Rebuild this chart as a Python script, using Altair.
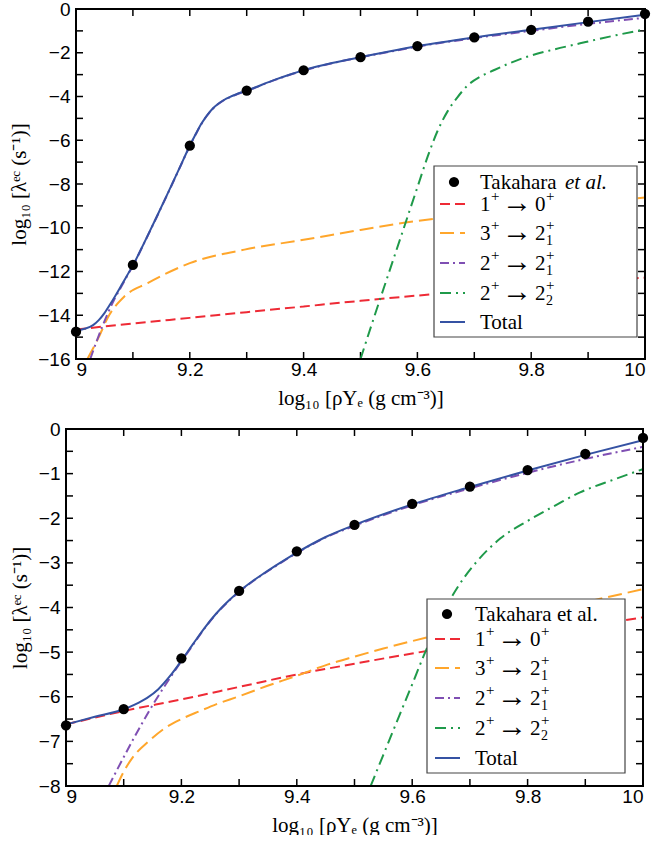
import altair as alt
import pandas as pd

# ---------------- data: top panel ----------------
tak_x = [9.0, 9.1, 9.2, 9.3, 9.4, 9.5, 9.6, 9.7, 9.8, 9.9, 10.0]
top_tak_y = [-14.75, -11.7, -6.25, -3.73, -2.8, -2.2, -1.7, -1.3, -0.95, -0.58, -0.22]

top_total_x = [9.0, 9.015, 9.03, 9.04, 9.05, 9.06, 9.07, 9.08, 9.09, 9.1, 9.12, 9.14, 9.16, 9.18,
               9.2, 9.21, 9.22, 9.23, 9.24, 9.25, 9.26, 9.27, 9.28, 9.29, 9.3, 9.35, 9.4, 9.45,
               9.5, 9.55, 9.6, 9.7, 9.8, 9.9, 10.0]
top_total_y = [-14.71, -14.62, -14.45, -14.22, -13.9, -13.5, -13.07, -12.62, -12.17, -11.72,
               -10.68, -9.6, -8.5, -7.38, -6.25, -5.74, -5.26, -4.87, -4.56, -4.33, -4.16, -4.03,
               -3.92, -3.82, -3.73, -3.23, -2.8, -2.47, -2.2, -1.94, -1.7, -1.3, -0.95, -0.6, -0.26]

top_red_x = [9.0, 9.1, 9.2, 9.3, 9.4, 9.5, 9.6, 9.7, 9.8, 9.9, 10.0]
top_red_y = [-14.65, -14.38, -14.12, -13.86, -13.6, -13.34, -13.1, -12.88, -12.67, -12.47, -12.28]

top_orange_x = [9.02, 9.04, 9.056, 9.085, 9.126, 9.2, 9.296, 9.4, 9.5, 9.582, 9.7, 9.8, 9.9, 10.0]
top_orange_y = [-16.0, -15.0, -14.1, -13.14, -12.53, -11.62, -11.0, -10.55, -10.1, -9.75, -9.4,
                -9.13, -8.88, -8.62]

top_purple_x = [9.025, 9.044, 9.067, 9.08, 9.09, 9.1, 9.12, 9.14, 9.16, 9.18, 9.2, 9.21, 9.22,
                9.23, 9.24, 9.25, 9.26, 9.27, 9.28, 9.29, 9.3, 9.35, 9.4, 9.45, 9.5, 9.55, 9.6,
                9.7, 9.8, 9.9, 10.0]
top_purple_y = [-16.0, -14.66, -13.29, -12.68, -12.2, -11.74, -10.69, -9.61, -8.51, -7.39, -6.26,
                -5.75, -5.27, -4.88, -4.57, -4.34, -4.17, -4.04, -3.93, -3.83, -3.74, -3.24, -2.81,
                -2.48, -2.21, -1.96, -1.72, -1.33, -1.0, -0.68, -0.4]

top_green_x = [9.5, 9.525, 9.55, 9.575, 9.6, 9.618, 9.635, 9.653, 9.67, 9.688, 9.71, 9.735,
               9.76, 9.793, 9.84, 9.886, 9.94, 10.0]
top_green_y = [-16.0, -14.0, -12.05, -10.1, -8.15, -6.75, -5.6, -4.68, -4.05, -3.5, -3.1, -2.79,
               -2.5, -2.18, -1.85, -1.57, -1.25, -0.93]

# ---------------- data: bottom panel ----------------
bot_tak_y = [-6.64, -6.28, -5.14, -3.63, -2.74, -2.15, -1.68, -1.29, -0.92, -0.56, -0.2]

bot_total_x = [9.0, 9.05, 9.1, 9.12, 9.14, 9.16, 9.18, 9.2, 9.22, 9.24, 9.26, 9.28, 9.3, 9.32,
               9.34, 9.36, 9.4, 9.45, 9.5, 9.6, 9.7, 9.8, 9.9, 10.0]
bot_total_y = [-6.62, -6.45, -6.28, -6.17, -6.03, -5.83, -5.54, -5.19, -4.82, -4.46, -4.14, -3.87,
               -3.64, -3.44, -3.26, -3.09, -2.77, -2.42, -2.15, -1.69, -1.3, -0.93, -0.58, -0.25]

bot_red_x = [9.0, 9.1, 9.2, 9.3, 9.4, 9.5, 9.6, 9.7, 9.8, 9.9, 10.0]
bot_red_y = [-6.62, -6.32, -6.06, -5.78, -5.5, -5.26, -5.03, -4.82, -4.62, -4.42, -4.22]

bot_orange_x = [9.088, 9.1, 9.115, 9.144, 9.173, 9.2, 9.232, 9.26, 9.3, 9.348, 9.4, 9.453,
                9.5, 9.55, 9.626, 9.7, 9.8, 9.9, 10.0]
bot_orange_y = [-8.0, -7.68, -7.37, -6.99, -6.69, -6.5, -6.32, -6.17, -5.99, -5.76, -5.53, -5.28,
                -5.1, -4.92, -4.67, -4.45, -4.17, -3.88, -3.59]

bot_purple_x = [9.074, 9.09, 9.115, 9.144, 9.173, 9.197, 9.22, 9.24, 9.26, 9.28, 9.3, 9.32,
                9.34, 9.36, 9.4, 9.45, 9.5, 9.6, 9.7, 9.8, 9.9, 10.0]
bot_purple_y = [-8.0, -7.6, -6.99, -6.32, -5.72, -5.26, -4.84, -4.47, -4.15, -3.88, -3.65, -3.45,
                -3.27, -3.1, -2.78, -2.43, -2.17, -1.71, -1.33, -0.98, -0.67, -0.4]

bot_green_x = [9.528, 9.55, 9.58, 9.6, 9.62, 9.643, 9.666, 9.69, 9.712, 9.753, 9.8, 9.85,
               9.891, 9.95, 10.0]
bot_green_y = [-8.0, -7.3, -6.35, -5.72, -5.08, -4.42, -3.82, -3.33, -2.97, -2.45, -2.06, -1.7,
               -1.42, -1.13, -0.9]

# ---------------- axis ticks / labels ----------------
x_tick_labels = [9.0, 9.2, 9.4, 9.6, 9.8, 10.0]
x_minor = [9.0, 9.1, 9.2, 9.3, 9.4, 9.5, 9.6, 9.7, 9.8, 9.9, 10.0]
top_y_labels = [0, -2, -4, -6, -8, -10, -12, -14, -16]
top_y_minor = list(range(0, -17, -1))
bot_y_labels = [0, -1, -2, -3, -4, -5, -6, -7, -8]
bot_y_minor = [v / 2 for v in range(0, -17, -1)]

SERIF = "Liberation Serif"
SANS = "Liberation Sans"

RED = "#ee2a35"
ORANGE = "#ffa62b"
PURPLE = "#7f4fb3"
GREEN = "#1f9a4a"
BLUE = "#3552a3"

STYLES = {
    "red": dict(color=RED, strokeDash=[10, 5]),
    "orange": dict(color=ORANGE, strokeDash=[14, 6]),
    "purple": dict(color=PURPLE, strokeDash=[9, 4, 2, 4]),
    "green": dict(color=GREEN, strokeDash=[11, 5, 2, 5]),
    "total": dict(color=BLUE),
}

X_TITLE = "log\u2081\u2080 [\u03c1Y\u2091 (g cm\u207b\u00b3)]"
Y_TITLE = "log\u2081\u2080 [\u03bb\u1d49\u1d9c (s\u207b\u00b9)]"

ONE = pd.DataFrame({"d": [0]})


def label_parts(a, b, sub):
    """pieces of a transition label: (dx, dy, text, size)"""
    parts = [(0, 0, a, 21), (11, -10, "+", 15), (22, 1, "\u2192", 30), (55, 0, b, 21),
             (66, -10, "+", 15)]
    if sub:
        parts.append((66, 5, sub, 14))
    return parts


def make_panel(W, H, inset, ydom, ylabels, yminor, series, tak_y, box, rows, tx, lx, dotx, italic):
    GW = W + inset  # group width; frame starts at `inset`
    xsc = alt.Scale(domain=[9, 10], nice=False, zero=False, range=[inset, GW])
    ysc = alt.Scale(domain=ydom, nice=False, zero=False)
    xaxis = alt.Axis(values=x_tick_labels, format="~g", title=X_TITLE, labelPadding=1,
                     titlePadding=8, titleX=inset + W / 2)
    yaxis = alt.Axis(values=ylabels, format="d", title=Y_TITLE, labelPadding=6,
                     titlePadding=8, offset=-inset)

    def X(f="x"):
        return alt.X(f, type="quantitative", scale=xsc, axis=xaxis)

    def Y(f="y"):
        return alt.Y(f, type="quantitative", scale=ysc, axis=yaxis)

    layers = []
    xt = pd.DataFrame({"x": x_minor})
    yt = pd.DataFrame({"y": yminor})
    tick = dict(color="black", strokeWidth=1.5)
    layers.append(alt.Chart(xt).mark_rule(**tick).encode(x=X(), y=alt.value(H), y2=alt.value(H - 7)))
    layers.append(alt.Chart(xt).mark_rule(**tick).encode(x=X(), y=alt.value(0), y2=alt.value(7)))
    layers.append(alt.Chart(yt).mark_rule(**tick).encode(y=Y(), x=alt.value(inset),
                                                           x2=alt.value(inset + 7)))
    layers.append(alt.Chart(yt).mark_rule(**tick).encode(y=Y(), x=alt.value(GW), x2=alt.value(GW - 7)))

    for key in ["red", "orange", "purple", "green", "total"]:
        xs, ys = series[key]
        df = pd.DataFrame({"x": xs, "y": ys})
        layers.append(
            alt.Chart(df).mark_line(clip=True, strokeWidth=2, interpolate="monotone",
                                    **STYLES[key]).encode(x=X(), y=Y())
        )
    # frame
    layers.append(alt.Chart(ONE).mark_rect(fill=None, fillOpacity=0, stroke="black", strokeWidth=2)
                  .encode(x=alt.value(inset), x2=alt.value(GW), y=alt.value(0), y2=alt.value(H)))
    pts = pd.DataFrame({"x": tak_x, "y": tak_y})
    layers.append(alt.Chart(pts).mark_circle(size=105, color="black", opacity=1, clip=False)
                  .encode(x=X(), y=Y()))

    # legend box
    x0, x1, y0, y1 = [v + (inset if i < 2 else 0) for i, v in enumerate(box)]
    layers.append(alt.Chart(ONE).mark_rect(fill="white", stroke="#444444", strokeWidth=1.2)
                  .encode(x=alt.value(x0), x2=alt.value(x1), y=alt.value(y0), y2=alt.value(y1)))
    tx = tx + inset
    lx = (lx[0] + inset, lx[1] + inset)
    dotx = dotx + inset
    # legend symbols
    layers.append(alt.Chart(ONE).mark_circle(size=105, color="black", opacity=1)
                  .encode(x=alt.value(dotx), y=alt.value(rows[0])))
    for key, ry in zip(["red", "orange", "purple", "green", "total"], rows[1:]):
        layers.append(alt.Chart(ONE).mark_rule(strokeWidth=2, **STYLES[key])
                      .encode(x=alt.value(lx[0]), x2=alt.value(lx[1]), y=alt.value(ry)))
    # legend text
    txt = dict(font=SERIF, align="left", baseline="alphabetic", color="black")
    if italic:
        layers.append(alt.Chart(ONE).mark_text(text="Takahara", fontSize=21, **txt)
                      .encode(x=alt.value(tx), y=alt.value(rows[0] + 7)))
        layers.append(alt.Chart(ONE).mark_text(text="et al.", fontSize=21, fontStyle="italic", **txt)
                      .encode(x=alt.value(tx + 85), y=alt.value(rows[0] + 7)))
    else:
        layers.append(alt.Chart(ONE).mark_text(text="Takahara et al.", fontSize=21, **txt)
                      .encode(x=alt.value(tx), y=alt.value(rows[0] + 7)))
    labels = [label_parts("1", "0", None), label_parts("3", "2", "1"),
              label_parts("2", "2", "1"), label_parts("2", "2", "2")]
    for parts, ry in zip(labels, rows[1:5]):
        for dx, dy, t, s in parts:
            layers.append(alt.Chart(ONE).mark_text(text=t, fontSize=s, **txt)
                          .encode(x=alt.value(tx + dx), y=alt.value(ry + 7 + dy)))
    layers.append(alt.Chart(ONE).mark_text(text="Total", fontSize=21, **txt)
                  .encode(x=alt.value(tx), y=alt.value(rows[5] + 7)))

    return alt.layer(*layers).properties(
        width=GW, height=H, view=alt.ViewBackground(stroke=None, strokeWidth=0))


top = make_panel(
    569, 350, 10, [-16, 0], top_y_labels, top_y_minor,
    {"red": (top_red_x, top_red_y), "orange": (top_orange_x, top_orange_y),
     "purple": (top_purple_x, top_purple_y), "green": (top_green_x, top_green_y),
     "total": (top_total_x, top_total_y)},
    top_tak_y, (358, 561, 157, 328), [173, 195, 224, 254, 284, 313],
    404, (364, 389), 378, True)

bottom = make_panel(
    577, 357, 0, [-8, 0], bot_y_labels, bot_y_minor,
    {"red": (bot_red_x, bot_red_y), "orange": (bot_orange_x, bot_orange_y),
     "purple": (bot_purple_x, bot_purple_y), "green": (bot_green_x, bot_green_y),
     "total": (bot_total_x, bot_total_y)},
    bot_tak_y, (361, 559, 170, 344), [185, 210, 239, 269, 299, 329],
    409, (369, 394), 381, False)

chart = alt.vconcat(top, bottom, spacing=12).properties(
    padding={"left": 8, "top": 0, "right": 0, "bottom": 0},
).configure_view(strokeWidth=0).configure_axis(
    labelFont=SANS, labelFontSize=19, labelColor="black",
    titleFont=SERIF, titleFontSize=21, titleFontWeight="normal", titleColor="black",
    domain=False, ticks=False, grid=False,
)

chart.save("out.html", embed_options={"renderer": "svg", "actions": False})
